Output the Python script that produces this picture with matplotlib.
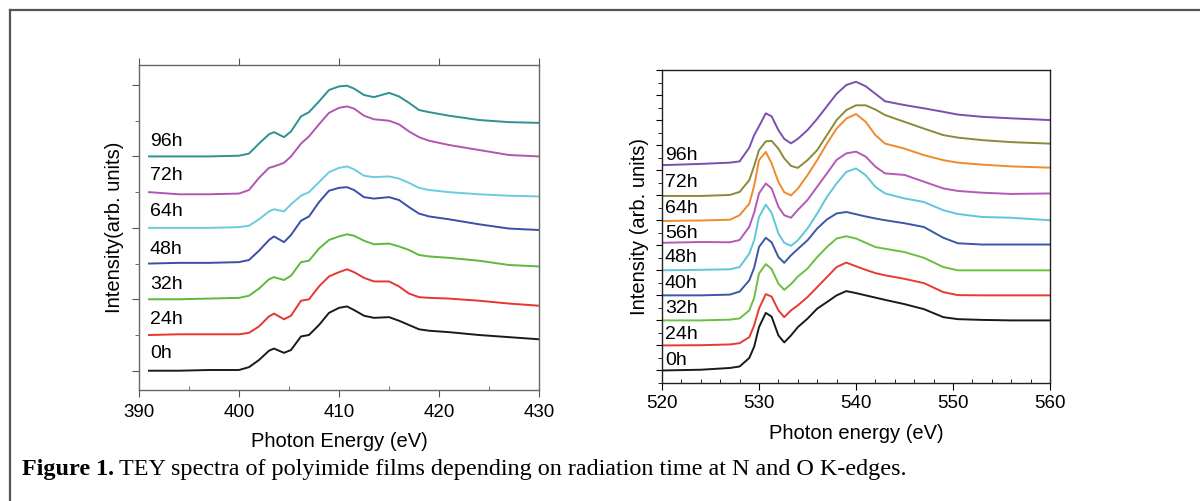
import matplotlib
matplotlib.use("Agg")
import matplotlib.pyplot as plt
from matplotlib.lines import Line2D
from matplotlib.ticker import MultipleLocator

plt.rcParams['font.family'] = ['Liberation Sans', 'DejaVu Sans']

# ---- N K-edge (left panel) ----
n_energy = [391, 394, 397, 400, 401, 402, 403, 403.5, 404.5, 405.2, 406.2, 407, 408, 409,
            410, 410.8, 411.5, 412.5, 413.5, 415, 416, 417, 418, 419, 421, 424, 427, 430]
n_labels = ['0h', '24h', '32h', '48h', '64h', '72h', '96h']
n_offsets = [0.0, 0.5, 1.0, 1.5, 2.0, 2.5, 3.0]
n_label_y = [0.24, 0.72, 1.21, 1.70, 2.23, 2.73, 3.21]
n_colors = ['#1a1a1a', '#e8352f', '#5eb93c', '#3a4fa8', '#6ccbe0', '#b057b2', '#2e9191']
n_spectra = [
    [0, 0, 0.01, 0.01, 0.05, 0.15, 0.28, 0.31, 0.25, 0.29, 0.48, 0.50, 0.64, 0.81,
     0.88, 0.90, 0.85, 0.77, 0.74, 0.75, 0.70, 0.64, 0.58, 0.56, 0.54, 0.50, 0.47, 0.44],
    [0, 0.01, 0.01, 0.01, 0.03, 0.12, 0.26, 0.30, 0.22, 0.27, 0.48, 0.50, 0.68, 0.82,
     0.88, 0.92, 0.88, 0.80, 0.75, 0.75, 0.68, 0.58, 0.53, 0.52, 0.51, 0.48, 0.44, 0.41],
    [0, 0, 0.01, 0.02, 0.05, 0.15, 0.28, 0.31, 0.27, 0.33, 0.52, 0.54, 0.71, 0.83,
     0.88, 0.91, 0.89, 0.82, 0.77, 0.78, 0.74, 0.69, 0.62, 0.60, 0.58, 0.54, 0.48, 0.46],
    [0, 0.01, 0.01, 0.02, 0.05, 0.18, 0.33, 0.38, 0.30, 0.40, 0.60, 0.66, 0.86, 1.02,
     1.06, 1.07, 1.03, 0.93, 0.91, 0.93, 0.89, 0.79, 0.70, 0.66, 0.62, 0.55, 0.49, 0.47],
    [0, 0, 0, 0.01, 0.03, 0.12, 0.23, 0.26, 0.23, 0.33, 0.45, 0.50, 0.64, 0.78,
     0.84, 0.86, 0.82, 0.73, 0.71, 0.72, 0.69, 0.63, 0.56, 0.53, 0.50, 0.47, 0.45, 0.44],
    [0, -0.03, -0.03, -0.02, 0.03, 0.20, 0.34, 0.36, 0.41, 0.50, 0.68, 0.78, 0.95, 1.11,
     1.18, 1.20, 1.17, 1.07, 1.02, 1.00, 0.95, 0.85, 0.77, 0.72, 0.66, 0.59, 0.52, 0.50],
    [0, 0, 0, 0.01, 0.04, 0.18, 0.31, 0.34, 0.27, 0.35, 0.56, 0.62, 0.77, 0.93,
     0.98, 0.99, 0.95, 0.86, 0.83, 0.89, 0.84, 0.75, 0.65, 0.62, 0.57, 0.51, 0.48, 0.47],
]

# ---- O K-edge (right panel) ----
o_energy = [520, 524, 527, 528, 529, 529.5, 530, 530.7, 531.3, 532, 532.6, 533.3, 534, 535,
            536, 537, 538, 539, 540, 541, 542, 543, 545, 547, 549, 550.5, 553, 556, 560]
o_labels = ['0h', '24h', '32h', '40h', '48h', '56h', '64h', '72h', '96h']
o_offsets = [0, 1, 2, 3, 4, 5.1, 5.97, 6.97, 8.2]
o_label_y = [0.4, 1.44, 2.47, 3.49, 4.53, 5.49, 6.45, 7.49, 8.6]
o_colors = ['#1a1a1a', '#e63b2e', '#6cbf3f', '#3b58a8', '#5fc6dc', '#b35ab5', '#f08a2c',
            '#8c8a3a', '#7b4fb0']
o_spectra = [
    [0, 0.03, 0.10, 0.16, 0.50, 0.95, 1.73, 2.30, 2.15, 1.40, 1.12, 1.40, 1.73, 2.07,
     2.47, 2.73, 3.00, 3.17, 3.09, 3.00, 2.91, 2.82, 2.65, 2.45, 2.13, 2.05, 2.02, 2.00, 2.00],
    [0, 0.01, 0.04, 0.09, 0.33, 0.80, 1.47, 2.05, 1.95, 1.40, 1.13, 1.40, 1.60, 1.93,
     2.33, 2.73, 3.13, 3.31, 3.16, 3.02, 2.89, 2.80, 2.66, 2.49, 2.13, 2.01, 2.00, 2.00, 2.00],
    [0, 0, 0.03, 0.08, 0.40, 0.90, 1.87, 2.25, 2.05, 1.47, 1.22, 1.45, 1.75, 2.07,
     2.53, 2.93, 3.27, 3.36, 3.27, 3.10, 2.93, 2.86, 2.73, 2.50, 2.13, 2.00, 2.00, 2.00, 2.00],
    [0, 0, 0.03, 0.15, 0.60, 1.10, 1.93, 2.30, 2.12, 1.53, 1.30, 1.60, 1.85, 2.20,
     2.67, 3.03, 3.27, 3.33, 3.24, 3.15, 3.07, 3.00, 2.88, 2.73, 2.30, 2.08, 2.03, 2.03, 2.03],
    [0, 0.02, 0.04, 0.13, 0.67, 1.20, 2.13, 2.62, 2.30, 1.47, 1.10, 0.98, 1.20, 1.67,
     2.27, 2.93, 3.47, 3.93, 4.07, 3.80, 3.33, 3.07, 2.87, 2.73, 2.40, 2.25, 2.13, 2.10, 2.00],
    [0, 0.03, 0.02, 0.11, 0.64, 1.20, 1.97, 2.37, 2.17, 1.44, 1.10, 1.00, 1.31, 1.71,
     2.24, 2.77, 3.31, 3.57, 3.64, 3.44, 3.04, 2.77, 2.71, 2.44, 2.17, 2.07, 2.00, 1.95, 1.97],
    [0, 0.02, 0.05, 0.23, 0.69, 1.40, 2.43, 2.76, 2.30, 1.56, 1.15, 1.02, 1.29, 1.83,
     2.43, 3.09, 3.69, 4.09, 4.27, 3.96, 3.43, 3.09, 2.89, 2.63, 2.43, 2.33, 2.25, 2.18, 2.13],
    [0, 0, 0.04, 0.16, 0.63, 1.20, 1.83, 2.18, 2.20, 1.89, 1.50, 1.20, 1.12, 1.43,
     1.83, 2.43, 3.03, 3.43, 3.62, 3.62, 3.45, 3.23, 2.96, 2.69, 2.43, 2.33, 2.23, 2.15, 2.09],
    [0, 0.05, 0.10, 0.15, 0.70, 1.20, 1.55, 2.07, 1.95, 1.40, 1.05, 0.87, 1.05, 1.40,
     1.85, 2.35, 2.85, 3.20, 3.33, 3.15, 2.85, 2.55, 2.40, 2.27, 2.13, 2.02, 1.93, 1.87, 1.80],
]

fig = plt.figure(figsize=(12, 5.01), dpi=100)

# page frame (top and left edges)
fig.add_artist(Line2D([10/1200, 10/1200], [0, 1 - 10/501], transform=fig.transFigure,
                      color='#555555', lw=1.6))
fig.add_artist(Line2D([10/1200, 1], [1 - 10/501, 1 - 10/501], transform=fig.transFigure,
                      color='#555555', lw=1.6))

# left panel
ax1 = fig.add_axes([139/1200, 1 - 390/501, 400/1200, 325/501])
for vals, off, col in zip(n_spectra, n_offsets, n_colors):
    ax1.plot(n_energy, [v + off for v in vals], color=col, lw=1.4)
for lab, ly in zip(n_labels, n_label_y):
    ax1.text(391.1, ly, lab, fontsize=14, va='center', ha='left')
ax1.set_xlim(390, 430)
ax1.set_ylim(-0.27, 4.28)
ax1.xaxis.set_major_locator(MultipleLocator(10))
ax1.xaxis.set_minor_locator(MultipleLocator(5))
ax1.yaxis.set_major_locator(MultipleLocator(1))
ax1.yaxis.set_minor_locator(MultipleLocator(0.5))
ax1.set_yticklabels([])
ax1.tick_params(axis='x', which='major', direction='out', length=5, labelsize=13.5, top=True,
                color='#555555', pad=5)
ax1.tick_params(axis='x', which='minor', direction='in', length=3, color='#555555')
ax1.tick_params(axis='y', which='major', direction='out', length=5, color='#555555')
ax1.tick_params(axis='y', which='minor', direction='out', length=3, color='#555555')
for s in ax1.spines.values():
    s.set_color('#666666')
    s.set_linewidth(1.0)
ax1.set_xlabel('Photon Energy (eV)', fontsize=14.5, labelpad=8)
ax1.set_ylabel('Intensity(arb. units)', fontsize=14.5, labelpad=2)

# right panel
ax2 = fig.add_axes([662/1200, 1 - 383/501, 388/1200, 313/501])
for vals, off, col in zip(o_spectra, o_offsets, o_colors):
    ax2.plot(o_energy, [v + off for v in vals], color=col, lw=1.4)
for lab, ly in zip(o_labels, o_label_y):
    ax2.text(520.3, ly, lab, fontsize=14, va='center', ha='left')
ax2.set_xlim(520, 560)
ax2.set_ylim(-0.5, 12.0)
ax2.xaxis.set_major_locator(MultipleLocator(10))
ax2.xaxis.set_minor_locator(MultipleLocator(2))
ax2.yaxis.set_major_locator(MultipleLocator(1))
ax2.yaxis.set_minor_locator(MultipleLocator(0.5))
ax2.set_yticklabels([])
ax2.tick_params(axis='x', which='major', direction='out', length=5, labelsize=13.5, pad=4)
ax2.tick_params(axis='x', which='minor', direction='in', length=3)
ax2.tick_params(axis='y', which='major', direction='out', length=4)
ax2.tick_params(axis='y', which='minor', direction='out', length=3)
for s in ax2.spines.values():
    s.set_color('#222222')
    s.set_linewidth(1.0)
ax2.set_xlabel('Photon energy (eV)', fontsize=14.5, labelpad=8)
ax2.set_ylabel('Intensity (arb. units)', fontsize=14.5, labelpad=2)

# caption
t1 = fig.text(22/1200, 1 - 470/501, 'Figure 1.', fontsize=17.4, fontweight='bold',
              family='Liberation Serif', va='center', ha='left')
fig.canvas.draw()
bb = t1.get_window_extent()
fig.text((bb.x1 + 5) / 1200, 1 - 470/501,
         'TEY spectra of polyimide films depending on radiation time at N and O K-edges.',
         fontsize=17.4, family='Liberation Serif', va='center', ha='left')

fig.savefig('out.png', dpi=100)
